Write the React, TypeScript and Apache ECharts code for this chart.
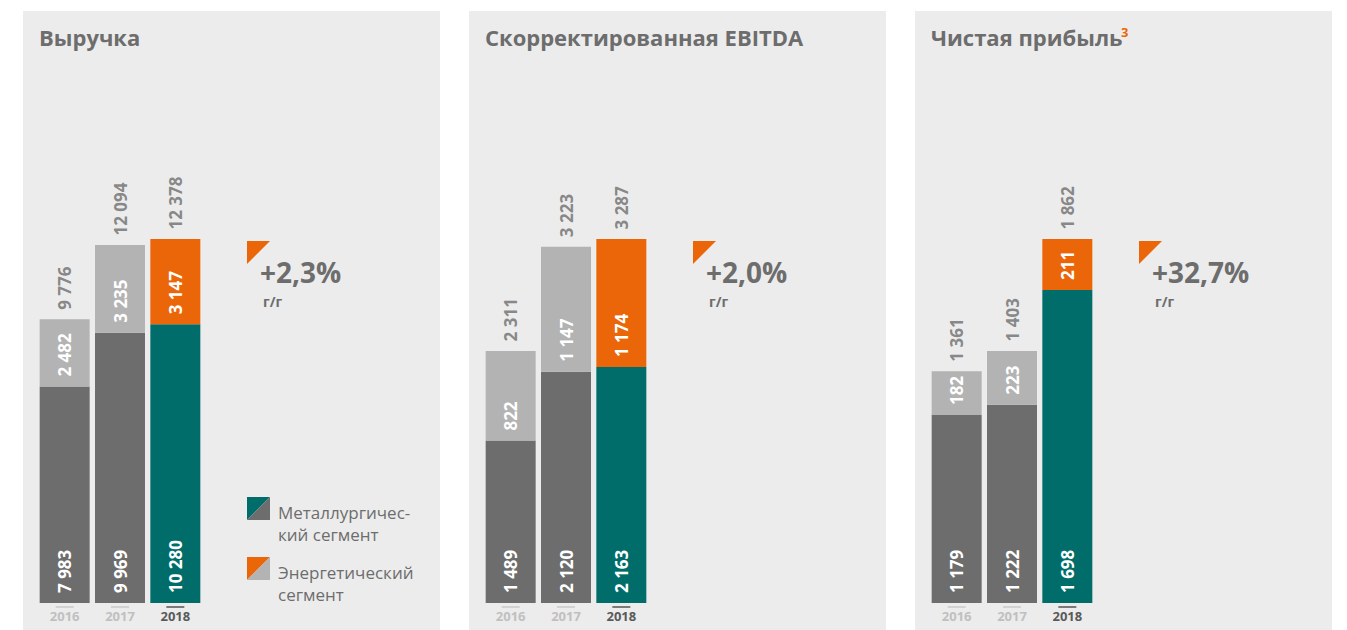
import React, { useEffect, useRef } from "react";
import * as echarts from "echarts";

const categories = ["2016", "2017", "2018"];

const revenueMetal = [7983, 9969, 10280];
const revenueEnergy = [2482, 3235, 3147];
const revenueTotal = [9776, 12094, 12378];

const ebitdaMetal = [1489, 2120, 2163];
const ebitdaEnergy = [822, 1147, 1174];
const ebitdaTotal = [2311, 3223, 3287];

const netMetal = [1179, 1222, 1698];
const netEnergy = [182, 223, 211];
const netTotal = [1361, 1403, 1862];

const titles = ["Выручка", "Скорректированная EBITDA", "Чистая прибыль"];
const growthTexts = ["+2,3%", "+2,0%", "+32,7%"];
const growthUnit = "г/г";
const axisMins = [0, 0, 400];
const legendTexts = [["Металлургичес-", "кий сегмент"], ["Энергетический", "сегмент"]];

const GREY_DARK = "#6d6d6d";
const GREY_LIGHT = "#b3b3b3";
const TEAL = "#006d6a";
const ORANGE = "#eb6608";
const TEXT = "#6d6d6d";
const FONT = "'Open Sans', sans-serif";

const fmt = (v: number) => String(v).replace(/\B(?=(\d{3})+(?!\d))/g, " ");

const panels = [
  { metal: revenueMetal, energy: revenueEnergy, total: revenueTotal },
  { metal: ebitdaMetal, energy: ebitdaEnergy, total: ebitdaTotal },
  { metal: netMetal, energy: netEnergy, total: netTotal },
];

export default function App() {
  const ref = useRef<HTMLDivElement>(null);
  useEffect(() => {
    if (!ref.current) return;
    const chart = echarts.init(ref.current, undefined, { renderer: "svg" });
    const OFFSET = 446;
    const grids: any[] = [];
    const xAxes: any[] = [];
    const yAxes: any[] = [];
    const series: any[] = [];
    const graphics: any[] = [];

    panels.forEach((p, i) => {
      const sums = p.metal.map((m, j) => m + p.energy[j]);
      const last = categories.length - 1;
      grids.push({ left: 37 + OFFSET * i, width: 166, top: 239, height: 364 });
      xAxes.push({
        type: "category",
        gridIndex: i,
        data: categories,
        axisLine: { show: false },
        axisTick: { show: false },
        axisLabel: {
          margin: 3,
          interval: 0,
          formatter: (v: string, idx: number) =>
            idx === last ? `{lb| }\n{yb|${v}}` : `{la| }\n{ya|${v}}`,
          rich: {
            la: { width: 18, height: 2, lineHeight: 2, fontSize: 1, backgroundColor: "#d2d2d2" },
            lb: { width: 18, height: 2, lineHeight: 2, fontSize: 1, backgroundColor: "#7a7a7a" },
            ya: { color: "#c0c0c0", fontSize: 13, fontWeight: "bold", fontFamily: FONT, lineHeight: 15 },
            yb: { color: "#5a5a5a", fontSize: 13, fontWeight: "bold", fontFamily: FONT, lineHeight: 15 },
          },
        },
      });
      yAxes.push({
        type: "value",
        gridIndex: i,
        min: axisMins[i],
        max: Math.max(...sums),
        show: false,
        splitLine: { show: false },
      });
      const insideLabel = {
        show: true,
        position: "insideBottom",
        distance: 10,
        rotate: 90,
        align: "left",
        verticalAlign: "middle",
        color: "#ffffff",
        fontSize: 17,
        fontWeight: "bold",
        fontFamily: FONT,
        formatter: (d: any) => fmt(d.value),
      };
      series.push({
        type: "bar",
        xAxisIndex: i,
        yAxisIndex: i,
        stack: "s" + i,
        barWidth: 50,
        data: p.metal.map((v, j) => ({ value: v, itemStyle: { color: j === last ? TEAL : GREY_DARK } })),
        label: insideLabel,
      });
      series.push({
        type: "bar",
        xAxisIndex: i,
        yAxisIndex: i,
        stack: "s" + i,
        barWidth: 50,
        data: p.energy.map((v, j) => ({ value: v, itemStyle: { color: j === last ? ORANGE : GREY_LIGHT } })),
        label: insideLabel,
      });
      series.push({
        type: "scatter",
        xAxisIndex: i,
        yAxisIndex: i,
        symbol: "rect",
        symbolSize: 1,
        itemStyle: { color: "transparent" },
        clip: false,
        data: sums.map((s, j) => ({ value: s, total: p.total[j] })),
        label: {
          show: true,
          position: "top",
          distance: 9,
          rotate: 90,
          align: "left",
          verticalAlign: "middle",
          color: TEXT,
          fontSize: 17,
          fontWeight: "bold",
          fontFamily: FONT,
          formatter: (d: any) => fmt(d.data.total),
        },
      });

      const ox = OFFSET * i;
      graphics.push({
        type: "rect",
        z: -10,
        shape: { x: 23 + ox, y: 11, width: 417, height: 630 },
        style: { fill: "#ececec" },
      });
      graphics.push({
        type: "text",
        z: 10,
        x: 39 + ox,
        y: 37,
        style: {
          text: titles[i],
          fill: TEXT,
          font: `bold 22px ${FONT}`,
          verticalAlign: "middle",
          align: "left",
        },
      });
      graphics.push({
        type: "polygon",
        z: 10,
        shape: { points: [[247 + ox, 241], [270 + ox, 241], [247 + ox, 264]] },
        style: { fill: ORANGE },
      });
      graphics.push({
        type: "text",
        z: 10,
        x: 260 + ox,
        y: 272,
        style: {
          text: growthTexts[i],
          fill: TEXT,
          font: `bold 28px ${FONT}`,
          lineHeight: 28,
          verticalAlign: "middle",
          align: "left",
        },
      });
      graphics.push({
        type: "text",
        z: 10,
        x: 263 + ox,
        y: 301,
        style: {
          text: growthUnit,
          fill: TEXT,
          font: `bold 14px ${FONT}`,
          lineHeight: 14,
          verticalAlign: "middle",
          align: "left",
        },
      });
    });

    // superscript on third title
    graphics.push({
      type: "text",
      z: 10,
      x: 1121,
      y: 32,
      style: { text: "3", fill: ORANGE, font: `bold 13px ${FONT}`, verticalAlign: "middle", align: "left" },
    });

    // legend
    const legendColors = [[TEAL, GREY_DARK], [ORANGE, GREY_LIGHT]];
    [497, 557].forEach((y0, k) => {
      graphics.push({
        type: "polygon",
        z: 10,
        shape: { points: [[247, y0], [270, y0], [247, y0 + 23]] },
        style: { fill: legendColors[k][0] },
      });
      graphics.push({
        type: "polygon",
        z: 10,
        shape: { points: [[270, y0], [270, y0 + 23], [247, y0 + 23]] },
        style: { fill: legendColors[k][1] },
      });
      legendTexts[k].forEach((t, li) => {
        graphics.push({
          type: "text",
          z: 10,
          x: 278,
          y: y0 + 15 + li * 22,
          style: { text: t, fill: TEXT, font: `17px ${FONT}`, verticalAlign: "middle", align: "left" },
        });
      });
    });

    chart.setOption({
      animation: false,
      grid: grids,
      xAxis: xAxes,
      yAxis: yAxes,
      series,
      graphic: graphics,
    });
    return () => chart.dispose();
  }, []);
  return (
    <div
      ref={ref}
      style={{ position: "absolute", left: 0, top: 0, width: 1347, height: 630, background: "#ffffff" }}
    />
  );
}
